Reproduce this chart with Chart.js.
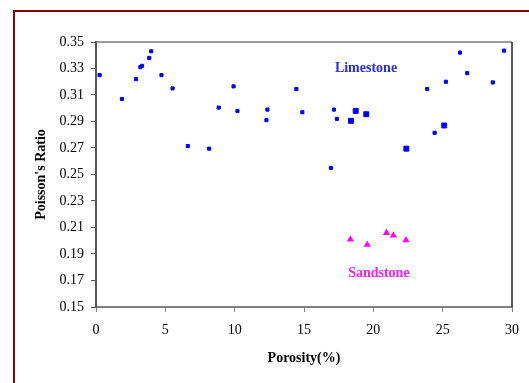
<!DOCTYPE html>
<html>
<head>
<meta charset="utf-8">
<script src="https://cdn.jsdelivr.net/npm/chart.js@4"></script>
<style>
  html, body { margin: 0; padding: 0; background: #fff; }
  canvas { display: block; }
</style>
</head>
<body>
<canvas id="chart" width="529" height="383"></canvas>
<script>
// Porosity (%) and Poisson's ratio measurements
const limestoneX = [0.26, 1.87, 2.89, 3.20, 3.32, 3.84, 3.98, 4.72, 5.52, 6.62, 8.16, 8.85, 9.92, 10.20,
                    12.29, 12.36, 14.45, 14.88, 16.94, 17.16, 17.37, 23.88, 24.42, 25.23, 26.25, 26.77, 28.62, 29.43];
const limestoneY = [0.325, 0.307, 0.322, 0.331, 0.332, 0.338, 0.343, 0.325, 0.315, 0.2715, 0.2695, 0.3005, 0.3165, 0.298,
                    0.291, 0.299, 0.3145, 0.297, 0.255, 0.299, 0.292, 0.3145, 0.2815, 0.320, 0.342, 0.3265, 0.3195, 0.3435];
// overlapping limestone samples, drawn with a heavier marker
const limestoneDenseX = [18.39, 18.73, 19.49, 22.38, 25.11];
const limestoneDenseY = [0.2905, 0.298, 0.2955, 0.2695, 0.287];
const sandstoneX = [18.35, 19.56, 20.95, 21.45, 22.36];
const sandstoneY = [0.201, 0.197, 0.206, 0.204, 0.2005];

const yTicks = [0.15, 0.17, 0.19, 0.21, 0.23, 0.25, 0.27, 0.29, 0.31, 0.33, 0.35];
const xTicks = [0, 5, 10, 15, 20, 25, 30];

const groupLabels = [
  { text: 'Limestone', x: 19.47, y: 0.3304, color: '#2b2bf0' },
  { text: 'Sandstone', x: 20.4, y: 0.1754, color: '#ff19ff' }
];

const toPoints = (xs, ys) => xs.map((x, i) => ({ x: x, y: ys[i] }));

const serif = '"Liberation Serif", "Times New Roman", serif';

// Outer dark-red frame around the whole figure
const framePlugin = {
  id: 'frame',
  beforeDraw(chart) {
    const ctx = chart.ctx;
    ctx.save();
    ctx.fillStyle = '#ffffff';
    ctx.fillRect(0, 0, chart.width, chart.height);
    ctx.strokeStyle = '#8b0000';
    ctx.lineWidth = 2;
    ctx.strokeRect(14, 11, chart.width + 20, chart.height + 20);
    ctx.restore();
  },
  afterDraw(chart) {
    const { ctx, chartArea: a } = chart;
    ctx.save();
    // top and right edges of the plot box
    ctx.strokeStyle = '#7a7a7a';
    ctx.lineWidth = 1.5;
    ctx.beginPath();
    ctx.moveTo(a.left, a.top);
    ctx.lineTo(a.right, a.top);
    ctx.stroke();
    ctx.strokeStyle = '#222';
    ctx.beginPath();
    ctx.moveTo(a.right, a.top);
    ctx.lineTo(a.right, a.bottom);
    ctx.stroke();
    // group names
    ctx.font = 'bold 14px ' + serif;
    ctx.textAlign = 'center';
    ctx.textBaseline = 'middle';
    groupLabels.forEach(l => {
      ctx.fillStyle = l.color;
      ctx.fillText(l.text, chart.scales.x.getPixelForValue(l.x), chart.scales.y.getPixelForValue(l.y));
    });
    ctx.restore();
  }
};

new Chart(document.getElementById('chart'), {
  type: 'scatter',
  data: {
    datasets: [
      {
        label: 'Limestone',
        data: toPoints(limestoneX, limestoneY),
        pointStyle: 'rect',
        pointRadius: 2.2,
        borderWidth: 1,
        backgroundColor: '#0000ff',
        borderColor: '#0000ff'
      },
      {
        label: 'Limestone (overlap)',
        data: toPoints(limestoneDenseX, limestoneDenseY),
        pointStyle: 'rect',
        pointRadius: 3.5,
        borderWidth: 1,
        backgroundColor: '#0000ff',
        borderColor: '#0000ff'
      },
      {
        label: 'Sandstone',
        data: toPoints(sandstoneX, sandstoneY),
        pointStyle: 'triangle',
        pointRadius: 4.2,
        borderWidth: 0,
        backgroundColor: '#ff00ff',
        borderColor: '#ff00ff'
      }
    ]
  },
  options: {
    responsive: false,
    devicePixelRatio: 1,
    animation: false,
    layout: { padding: { left: 25, top: 42, right: 12, bottom: 0 } },
    plugins: {
      legend: { display: false },
      tooltip: { enabled: false }
    },
    scales: {
      x: {
        type: 'linear',
        min: 0,
        max: 30,
        afterBuildTicks(scale) { scale.ticks = xTicks.map(v => ({ value: v })); },
        afterFit(scale) { scale.height = 76; },
        grid: { drawOnChartArea: false, drawTicks: true, tickLength: 5, color: '#808080', lineWidth: 1 },
        border: { color: '#808080', width: 2 },
        ticks: { color: '#000', font: { family: serif, size: 14 }, padding: 10, maxRotation: 0 },
        title: {
          display: true,
          text: 'Porosity(%)',
          color: '#000',
          font: { family: serif, size: 14, weight: 'bold' },
          padding: { top: 0, bottom: 16 }
        }
      },
      y: {
        type: 'linear',
        min: 0.15,
        max: 0.35,
        afterBuildTicks(scale) { scale.ticks = yTicks.map(v => ({ value: v })); },
        afterFit(scale) { scale.width = 71; },
        grid: { drawOnChartArea: false, drawTicks: true, tickLength: 5, color: '#555', lineWidth: 1 },
        border: { color: '#555', width: 2 },
        ticks: {
          color: '#000',
          font: { family: serif, size: 14 },
          padding: 7,
          callback: v => v.toFixed(2)
        },
        title: {
          display: true,
          text: "Poisson's Ratio",
          color: '#000',
          font: { family: serif, size: 14, weight: 'bold' },
          padding: { top: 8, bottom: 0 }
        }
      }
    }
  },
  plugins: [framePlugin]
});
</script>
</body>
</html>
